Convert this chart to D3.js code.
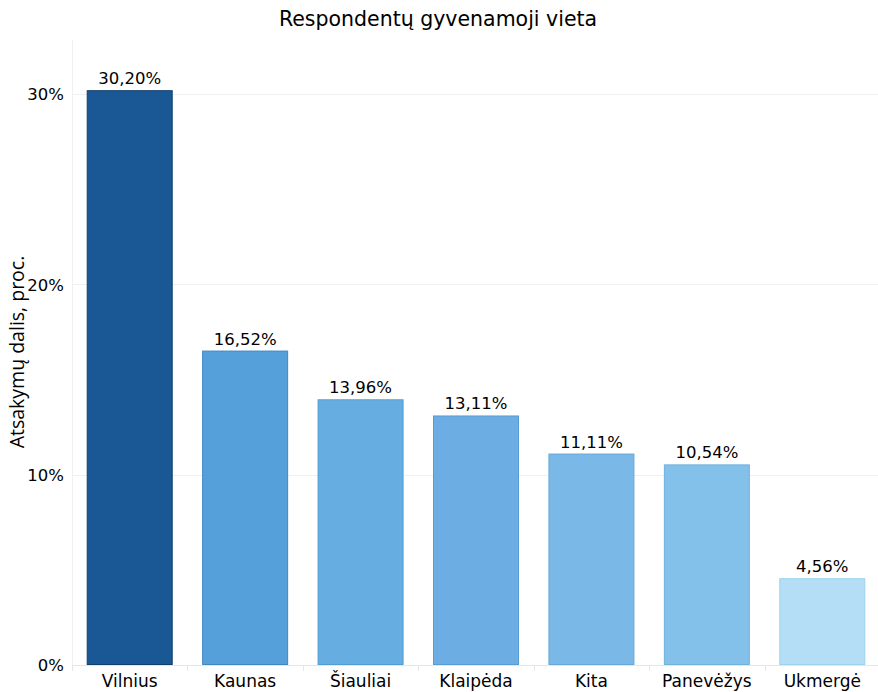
<!DOCTYPE html>
<html>
<head>
<meta charset="utf-8">
<script src="https://cdn.jsdelivr.net/npm/d3@7"></script>
<style>
  html, body { margin: 0; padding: 0; background: #fff; }
  svg { display: block; }
  .lbl { font-family: "DejaVu Sans", sans-serif; fill: #000; }
</style>
</head>
<body>
<svg id="chart" width="878" height="692"></svg>
<script>
// Place of residence of respondents, share of answers (%)
const cities = ["Vilnius", "Kaunas", "Šiauliai", "Klaipėda", "Kita", "Panevėžys", "Ukmergė"];
const shares = [30.20, 16.52, 13.96, 13.11, 11.11, 10.54, 4.56];
const barFills = ["#1a5795", "#559fdb", "#66aee2", "#6caee4", "#79b8e7", "#83c0ea", "#b3def5"];
const barStrokes = ["#0f3f6e", "#3f88c6", "#529dd3", "#559dd4", "#66a8da", "#6eb2e0", "#9dd1ee"];
const yTicks = [0, 10, 20, 30];

const svg = d3.select("#chart");
const W = 878, H = 692;
const plot = { left: 72, right: 880, top: 40, bottom: 665 };

const x = d3.scaleBand().domain(cities).range([plot.left, plot.right]).paddingInner(0.255).paddingOuter(0.1275);
const y = d3.scaleLinear().domain([0, 30]).range([plot.bottom, 94]);

// gridlines
svg.append("g").selectAll("line").data(yTicks).join("line")
  .attr("x1", plot.left).attr("x2", W)
  .attr("y1", d => Math.round(y(d)) + 0.5).attr("y2", d => Math.round(y(d)) + 0.5)
  .attr("stroke", d => d === 0 ? "#e6e6e6" : "#f0f0f0").attr("stroke-width", 1);

// left frame line
svg.append("line").attr("x1", plot.left + 0.5).attr("x2", plot.left + 0.5)
  .attr("y1", plot.top).attr("y2", plot.bottom + 6).attr("stroke", "#f0f0f0");

// category separators below the baseline
const step = x.step();
svg.append("g").selectAll("line").data(d3.range(cities.length)).join("line")
  .attr("x1", i => Math.round(plot.left + step * i) + 0.5)
  .attr("x2", i => Math.round(plot.left + step * i) + 0.5)
  .attr("y1", plot.bottom).attr("y2", plot.bottom + 6)
  .attr("stroke", "#e6e6e6");

// bars
svg.append("g").selectAll("rect").data(shares).join("rect")
  .attr("x", (d, i) => x(cities[i]) + 0.5)
  .attr("y", d => y(d) + 0.5)
  .attr("width", x.bandwidth() - 1)
  .attr("height", d => y(0) - y(d) - 1)
  .attr("fill", (d, i) => barFills[i])
  .attr("stroke", (d, i) => barStrokes[i]).attr("stroke-width", 1);

// value labels
svg.append("g").selectAll("text").data(shares).join("text")
  .attr("class", "lbl")
  .attr("x", (d, i) => x(cities[i]) + x.bandwidth() / 2)
  .attr("y", d => y(d) - 6)
  .attr("text-anchor", "middle")
  .attr("font-size", 16.5)
  .text(d => d.toFixed(2).replace(".", ",") + "%");

// y axis
const yAxis = d3.axisLeft(y).tickValues(yTicks).tickSize(0).tickPadding(0).tickFormat(d => d + "%");
const yg = svg.append("g").attr("transform", `translate(64,0)`).call(yAxis);
yg.attr("font-family", null).attr("font-size", null);
yg.select(".domain").remove();
yg.selectAll("text").attr("class", "lbl").attr("font-size", 16.5).attr("dy", "0.36em");

// x axis
const xAxis = d3.axisBottom(x).tickSize(0).tickPadding(0);
const xg = svg.append("g").attr("transform", `translate(0,${plot.bottom})`).call(xAxis);
xg.attr("font-family", null).attr("font-size", null);
xg.select(".domain").remove();
xg.selectAll("text").attr("class", "lbl").attr("font-size", 17).attr("y", 22).attr("dy", 0);

// y axis title
svg.append("text")
  .attr("transform", `translate(24,352) rotate(-90)`)
  .attr("text-anchor", "middle").attr("font-size", 19.5)
  .attr("fill", "#000")
  .style("font-family", "'Open Sans', 'Noto Sans', sans-serif")
  .text("Atsakymų dalis, proc.");

// chart title
svg.append("text").attr("class", "lbl")
  .attr("x", 438).attr("y", 26).attr("text-anchor", "middle").attr("font-size", 20.5)
  .text("Respondentų gyvenamoji vieta");
</script>
</body>
</html>
